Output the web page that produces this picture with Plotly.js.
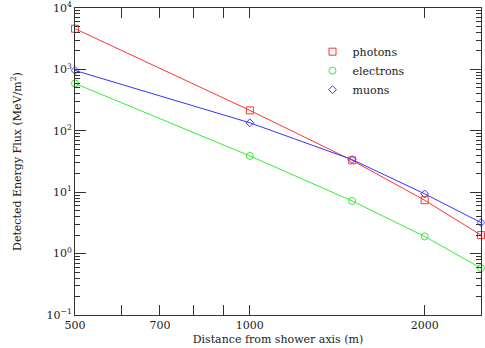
<!DOCTYPE html>
<html><head><meta charset="utf-8">
<script src="https://cdn.plot.ly/plotly-3.0.1.min.js"></script>
<style>html,body{margin:0;padding:0;background:#fff}</style>
</head><body><div id="chart" style="width:485px;height:348px"></div>
<script>
const distance = [500, 1000, 1500, 2000, 2500];
const photons = [4600, 215, 33, 7.4, 2.0];
const electrons = [590, 39, 7.2, 1.9, 0.58];
const muons = [960, 135, 34, 9.4, 3.2];
const xTickVals = [500, 600, 700, 800, 900, 1000, 2000];
const xTickText = ['500', '', '700', '', '', '1000', '2000'];
const yTickVals = [0.1, 1, 10, 100, 1000, 10000];
const yTickText = ['10<sup>−1</sup>', '10<sup>0</sup>', '10<sup>1</sup>', '10<sup>2</sup>', '10<sup>3</sup>', '10<sup>4</sup>'];

const series = [
  {name: 'photons', y: photons, color: '#ff3333', symbol: 'square-open', size: 7},
  {name: 'electrons', y: electrons, color: '#33ee33', symbol: 'circle-open', size: 7},
  {name: 'muons', y: muons, color: '#3333ff', symbol: 'diamond-open', size: 6}
];
const traces = [];
series.forEach(s => {
  traces.push({x: distance, y: s.y, mode: 'lines', line: {color: s.color, width: 1}, showlegend: false, hoverinfo: 'skip', cliponaxis: false});
});
series.forEach(s => {
  traces.push({x: distance, y: s.y, mode: 'markers', name: s.name, cliponaxis: false,
    marker: {symbol: s.symbol, size: s.size, color: s.color, line: {color: s.color, width: 1}}});
});
const font = {family: 'DejaVu Serif', size: 10, color: '#222'};
const layout = {
  width: 485, height: 348,
  margin: {l: 75, r: 4, t: 8, b: 33},
  paper_bgcolor: '#fff', plot_bgcolor: '#fff',
  font: font,
  showlegend: true,
  legend: {x: 0.585, y: 0.905, xanchor: 'left', yanchor: 'top', bgcolor: 'rgba(0,0,0,0)', font: {family: 'DejaVu Serif', size: 11, color: '#222'}, tracegroupgap: 0, itemwidth: 30},
  xaxis: {
    type: 'log', range: [2.6989, 3.3980],
    tickmode: 'array', tickvals: xTickVals, ticktext: xTickText,
    ticks: 'inside', ticklen: 10, tickcolor: '#333', tickwidth: 1,
    showline: true, linecolor: '#333', linewidth: 1, mirror: 'allticks',
    showgrid: false, zeroline: false,
    tickfont: {family: 'DejaVu Serif', size: 11, color: '#222'},
    title: {text: 'Distance from shower axis (m)', font: {family: 'DejaVu Serif', size: 11, color: '#222'}, standoff: 4}
  },
  yaxis: {
    type: 'log', range: [-1, 4],
    tickmode: 'array', tickvals: yTickVals, ticktext: yTickText,
    ticks: 'inside', ticklen: 11, tickcolor: '#333', tickwidth: 1,
    minor: {ticks: 'inside', ticklen: 5, tickcolor: '#333', dtick: 'D1', showgrid: false},
    showline: true, linecolor: '#333', linewidth: 1, mirror: 'allticks',
    showgrid: false, zeroline: false,
    tickfont: {family: 'DejaVu Serif', size: 11, color: '#222'},
    title: {text: 'Detected Energy Flux (MeV/m<sup>2</sup>)', font: {family: 'DejaVu Serif', size: 11, color: '#222'}, standoff: 22}
  }
};
Plotly.newPlot('chart', traces, layout, {displayModeBar: false, staticPlot: true});
</script></body></html>
